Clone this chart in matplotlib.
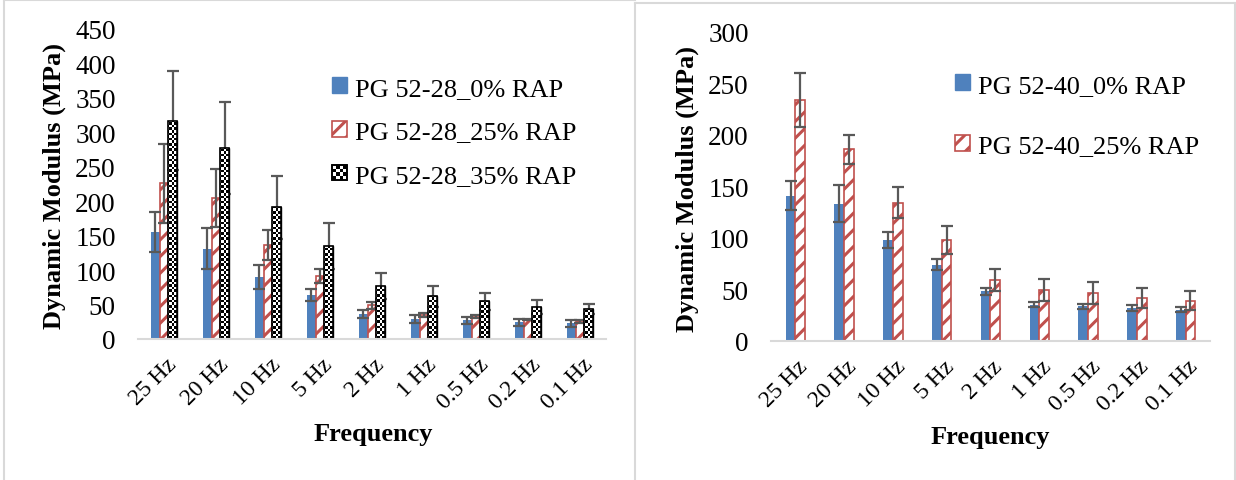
import numpy as np
import matplotlib
matplotlib.use("Agg")
import matplotlib.pyplot as plt
import matplotlib.transforms as mtransforms
from matplotlib.lines import Line2D
from matplotlib.patches import Rectangle, Patch
from matplotlib.legend_handler import HandlerBase

plt.rcParams['font.family'] = ['Liberation Serif', 'DejaVu Serif']
plt.rcParams['hatch.linewidth'] = 2.2

# ---------------- data ----------------
freqs = ['25 Hz', '20 Hz', '10 Hz', '5 Hz', '2 Hz', '1 Hz', '0.5 Hz', '0.2 Hz', '0.1 Hz']

pg2828_0 = [155, 131, 90, 64, 36, 29, 27, 24, 23]
pg2828_0_err = [29, 30, 17, 9, 6, 6, 5, 5, 5]
pg2828_25 = [226, 205, 136, 91, 49, 35, 33, 28, 25.5]
pg2828_25_err = [57, 42, 22, 10, 5, 3, 2, 1, 2]
pg2828_35 = [317, 277, 191, 135, 77, 62, 55, 47, 44]
pg2828_35_err = [72, 67, 46, 34, 19, 15, 12.5, 10, 7]

pg4040_0 = [141, 133, 98, 74, 48, 35, 33.5, 31.5, 30]
pg4040_0_err = [14, 18, 8, 5.5, 3.5, 2.5, 2.5, 3, 2.5]
pg4040_25 = [234, 186, 134, 98, 59, 49, 46.5, 41.5, 39]
pg4040_25_err = [26, 14, 15, 13.5, 10.5, 10.5, 10.5, 10, 9.5]

labels_left = ['PG 52-28_0% RAP', 'PG 52-28_25% RAP', 'PG 52-28_35% RAP']
labels_right = ['PG 52-40_0% RAP', 'PG 52-40_25% RAP']

# ---------------- style ----------------
BLUE = '#4F81BD'
RED = '#C0504D'
ERRC = '#595959'
GRID = '#D9D9D9'

W, H = 1236, 481
fig = plt.figure(figsize=(W / 100, H / 100), dpi=100)


def px_axes(x0, x1, y_top, y_bot):
    return fig.add_axes([x0 / W, (H - y_bot) / H, (x1 - x0) / W, (y_bot - y_top) / H])


class CheckerHandler(HandlerBase):
    def create_artists(self, legend, orig_handle, xdescent, ydescent, width, height, fontsize, trans):
        arts = []
        s = min(width, height)
        x0 = -xdescent + (width - s) / 2
        y0 = -ydescent + (height - s) / 2
        n = 4
        c = s / n
        arts.append(Rectangle((x0, y0), s, s, facecolor='white', edgecolor='black', lw=1.2, transform=trans))
        for i in range(n):
            for j in range(n):
                if (i + j) % 2 == 0:
                    arts.append(Rectangle((x0 + i * c, y0 + j * c), c, c, facecolor='black',
                                          edgecolor='none', transform=trans))
        arts.append(Rectangle((x0, y0), s, s, facecolor='none', edgecolor='black', lw=1.2, transform=trans))
        return arts


def style_axes(ax, ymax, step):
    ax.set_xlim(-0.5, len(freqs) - 0.5)
    ax.set_ylim(0, ymax)
    ax.set_yticks(np.arange(0, ymax + 1, step))
    for s in ['top', 'right', 'left']:
        ax.spines[s].set_visible(False)
    ax.spines['bottom'].set_color(GRID)
    ax.spines['bottom'].set_linewidth(1.5)
    ax.tick_params(axis='both', length=0)
    ax.tick_params(axis='y', pad=16, labelsize=19.5)
    ax.set_xticks(range(len(freqs)))
    ax.set_xticklabels(freqs, rotation=45, ha='right', va='center', rotation_mode='anchor')
    ax.tick_params(axis='x', pad=16, labelsize=17)
    off = mtransforms.ScaledTranslation(9 / 100, 0, fig.dpi_scale_trans)
    for lab in ax.get_xticklabels():
        lab.set_transform(lab.get_transform() + off)
    ax.patch.set_alpha(0)


ekw = dict(ecolor=ERRC, elinewidth=1.6, capsize=4.6, capthick=1.6)

# ---------------- left chart ----------------
axL = px_axes(138, 606, 30, 340)
x = np.arange(len(freqs))
bw = 1 / 6
axL.bar(x - bw, pg2828_0, bw, color=BLUE, yerr=pg2828_0_err, error_kw=ekw, zorder=2)
axL.bar(x, pg2828_25, bw, facecolor='white', edgecolor=RED, hatch='//', linewidth=1.2,
        yerr=pg2828_25_err, error_kw=ekw, zorder=2)
bars35 = axL.bar(x + bw, pg2828_35, bw, facecolor='white', edgecolor='black', linewidth=1.0,
                 yerr=pg2828_35_err, error_kw=ekw, zorder=2)

# checkerboard fill for 35% RAP bars
nx, ny = int(468 / 2.6), int(310 / 2.6)
checker = (np.indices((ny, nx)).sum(axis=0) % 2).astype(float)
for b in bars35:
    im = axL.imshow(checker, cmap='gray', extent=(-0.5, len(freqs) - 0.5, 0, 450),
                    interpolation='nearest', aspect='auto', zorder=2.2, vmin=0, vmax=1)
    im.set_clip_path(b)
for b in bars35:
    axL.add_patch(Rectangle(b.get_xy(), b.get_width(), b.get_height(), facecolor='none',
                            edgecolor='black', lw=1.2, zorder=2.4))

style_axes(axL, 450, 50)
axL.set_ylabel('Dynamic Modulus (MPa)', fontsize=19, fontweight='bold', va='center')
axL.yaxis.set_label_coords(-0.179, 0.497)
axL.set_xlabel('Frequency', fontsize=19, fontweight='bold', va='center')
axL.xaxis.set_label_coords(0.502, -0.306)

hL = [Patch(facecolor=BLUE, edgecolor=BLUE),
      Patch(facecolor='white', edgecolor=RED, hatch='//', lw=1.2),
      Patch(facecolor='white', edgecolor='black')]
fig.legend(hL, labels_left, loc='upper left', bbox_to_anchor=(332 / W, 1 - 78 / H),
           frameon=False, fontsize=19, handlelength=0.58, handleheight=0.58,
           handletextpad=0.3, labelspacing=0.8, borderpad=0, borderaxespad=0,
           handler_map={hL[2]: CheckerHandler()})

# ---------------- right chart ----------------
axR = px_axes(771, 1210, 33, 341.7)
bw2 = 0.2
axR.bar(x - bw2 / 2, pg4040_0, bw2, color=BLUE, yerr=pg4040_0_err, error_kw=ekw, zorder=2)
axR.bar(x + bw2 / 2, pg4040_25, bw2, facecolor='white', edgecolor=RED, hatch='//', linewidth=1.2,
        yerr=pg4040_25_err, error_kw=ekw, zorder=2)
style_axes(axR, 300, 50)
axR.set_ylabel('Dynamic Modulus (MPa)', fontsize=19, fontweight='bold', va='center')
axR.yaxis.set_label_coords(-0.191, 0.495)
axR.set_xlabel('Frequency', fontsize=19, fontweight='bold', va='center')
axR.xaxis.set_label_coords(0.5, -0.309)

hR = [Patch(facecolor=BLUE, edgecolor=BLUE),
      Patch(facecolor='white', edgecolor=RED, hatch='//', lw=1.2)]
fig.legend(hR, labels_right, loc='upper left', bbox_to_anchor=(955 / W, 1 - 75 / H),
           frameon=False, fontsize=19, handlelength=0.58, handleheight=0.58,
           handletextpad=0.3, labelspacing=1.45, borderpad=0, borderaxespad=0)

# ---------------- panel frames ----------------
def fline(xs, ys):
    fig.add_artist(Line2D([v / W for v in xs], [1 - v / H for v in ys], color=GRID, lw=1.5))

fline([4, 4], [0, H])
fline([4, 635], [0.7, 0.7])
fline([635, 635], [4, H])
fline([635, 1235], [4, 4])
fline([1235, 1235], [4, H])

fig.savefig('out.png', dpi=100)
